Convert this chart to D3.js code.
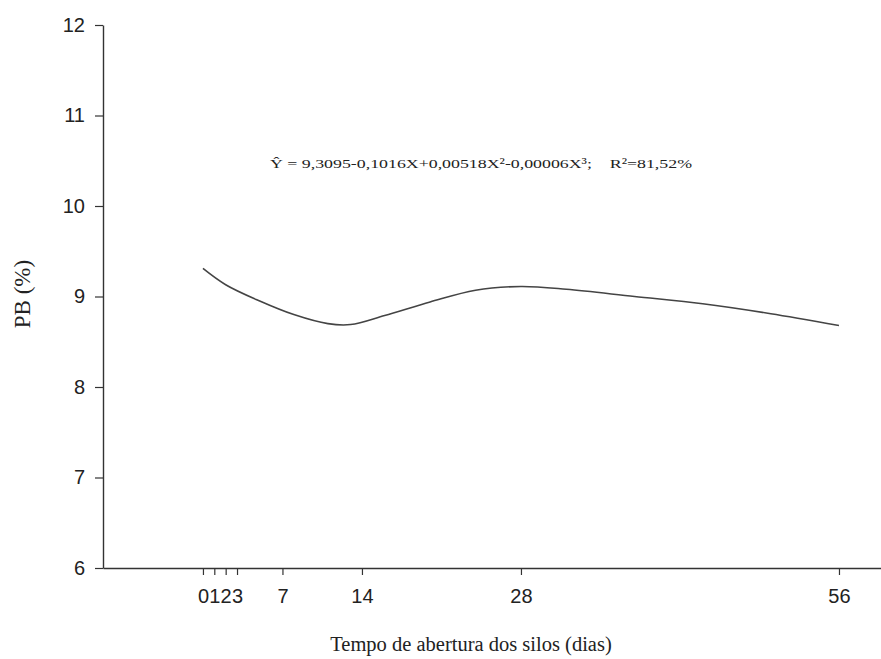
<!DOCTYPE html>
<html lang="pt">
    <head>
        <meta charset="UTF-8">
        <title>PB x tempo de abertura</title>
        <style>
            body { margin: 0; background: #fff; }
            svg { display: block; }
            .tick text { font-family: 'Liberation Sans', Arial, sans-serif; font-size: 20px; fill: #222; }
            .serif { font-family: 'Liberation Serif', 'Times New Roman', serif; fill: #222; }
        </style>
    </head>
    <body>
        <div id="chart"></div>
        <script src="https://cdn.jsdelivr.net/npm/d3@7"></script>
        <script>
            // values
            var dias   = [0, 2, 5, 8, 11, 13, 16, 20, 24, 28, 32, 38, 44, 50, 56];
            var pb     = [9.31, 9.13, 8.95, 8.80, 8.70, 8.69, 8.79, 8.94, 9.07, 9.11, 9.08, 9.00, 8.92, 8.81, 8.68];
            var xTicks = [0, 1, 2, 3, 7, 14, 28, 56];
            var yTicks = [6, 7, 8, 9, 10, 11, 12];

            var w = 881, h = 659;
            const svg = d3.select('#chart').append('svg').attr('width', w).attr('height', h);

            var x = d3.scaleLinear().domain([-8.8, 59.7]).range([103, 881]);
            var y = d3.scaleLinear().domain([6, 12]).range([568, 25]);

            svg.append('g').attr('transform', 'translate(0,' + y(6) + ')')
                .call(d3.axisBottom(x).tickValues(xTicks).tickSize(7).tickPadding(14).tickSizeOuter(0));
            svg.append('g').attr('transform', 'translate(' + x(-8.8) + ',0)')
                .call(d3.axisLeft(y).tickValues(yTicks).tickFormat(d3.format('d')).tickSize(8).tickPadding(10).tickSizeOuter(0));
            svg.selectAll('.domain').attr('stroke', '#333').attr('stroke-width', 1.4);
            svg.selectAll('.tick line').attr('stroke', '#333').attr('stroke-width', 1.2);

            var pts = dias.map((d, i) => [d, pb[i]]);
            svg.append('path')
                .datum(pts)
                .attr('fill', 'none')
                .attr('stroke', '#444')
                .attr('stroke-width', 1.6)
                .attr('d', d3.line().x(d => x(d[0])).y(d => y(d[1])).curve(d3.curveCatmullRom));

            // equation (as printed on the figure)
            svg.append('text').attr('class', 'serif')
                .attr('x', 270).attr('y', 168)
                .attr('font-size', 13.5)
                .attr('textLength', 422).attr('lengthAdjust', 'spacingAndGlyphs')
                .text('Ŷ = 9,3095-0,1016X+0,00518X²-0,00006X³;\u00a0\u00a0\u00a0\u00a0R²=81,52%');

            svg.append('text').attr('class', 'serif')
                .attr('x', 471).attr('y', 651)
                .attr('text-anchor', 'middle')
                .attr('font-size', 20.5)
                .text('Tempo de abertura dos silos (dias)');

            svg.append('text').attr('class', 'serif')
                .attr('transform', 'translate(30,294) rotate(-90)')
                .attr('text-anchor', 'middle')
                .attr('font-size', 23)
                .text('PB (%)');
        </script>
    </body>
</html>
